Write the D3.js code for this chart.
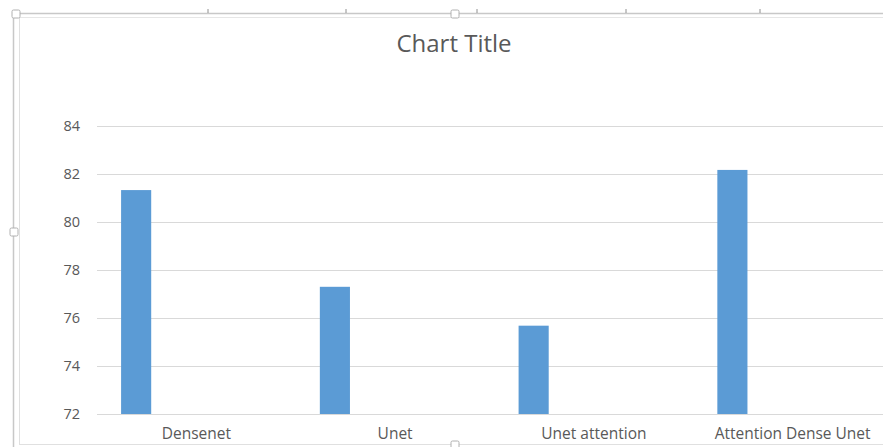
<!DOCTYPE html>
<html>
<head>
<meta charset="utf-8">
<script src="https://cdn.jsdelivr.net/npm/d3@7/dist/d3.min.js"></script>
<style>
  html, body { margin: 0; padding: 0; background: #ffffff; }
  svg { display: block; }
</style>
</head>
<body>
<svg id="chart" width="883" height="447"></svg>
<script>
const categories = ["Densenet", "Unet", "Unet attention", "Attention Dense Unet"];
const values = [81.33, 77.3, 75.68, 82.17];
const yTicks = [72, 74, 76, 78, 80, 82, 84];
const title = "Chart Title";
const seriesSlots = ["S1", "S2", "S3", "S4", "S5"];

const svg = d3.select("#chart");
const W = 883, H = 447;
const plot = { left: 97, right: 892, top: 126, bottom: 414 };
const font = "'Open Sans', 'Noto Sans', sans-serif";

// Excel-like chart frame (selection border)
const frame = svg.append("g");
frame.append("line").attr("x1", 13).attr("x2", W).attr("y1", 13.5).attr("y2", 13.5).attr("stroke", "#c8c8c8").attr("stroke-width", 1.5);
frame.append("line").attr("x1", 18).attr("x2", W).attr("y1", 17.5).attr("y2", 17.5).attr("stroke", "#e6e6e6").attr("stroke-width", 1);
frame.append("line").attr("x1", 13.5).attr("x2", 13.5).attr("y1", 13).attr("y2", 447).attr("stroke", "#c8c8c8").attr("stroke-width", 1.5);
frame.append("line").attr("x1", 19.5).attr("x2", 19.5).attr("y1", 17).attr("y2", 445).attr("stroke", "#e0e0e0").attr("stroke-width", 1);
frame.append("line").attr("x1", 19).attr("x2", W).attr("y1", 444.5).attr("y2", 444.5).attr("stroke", "#e0e0e0").attr("stroke-width", 1);
[208, 346, 477, 626, 760].forEach(x => {
  frame.append("line").attr("x1", x).attr("x2", x).attr("y1", 9).attr("y2", 13).attr("stroke", "#909090").attr("stroke-width", 1);
});
[[16, 14], [455, 14], [14, 232], [455, 445]].forEach(([cx, cy]) => {
  frame.append("rect").attr("x", cx - 4).attr("y", cy - 4).attr("width", 8).attr("height", 8)
    .attr("rx", 1.5).attr("fill", "#ffffff").attr("stroke", "#b0b0b0").attr("stroke-width", 1);
});

// Scales
const x = d3.scaleBand().domain(categories).range([plot.left, plot.right]).paddingInner(0).paddingOuter(0);
const slot = d3.scaleBand().domain(seriesSlots).range([0, x.bandwidth()]).paddingInner(0).paddingOuter(0.8);
const y = d3.scaleLinear().domain([72, 84]).range([plot.bottom, plot.top]);

// Gridlines
const yAxis = d3.axisLeft(y).tickValues(yTicks).tickSize(-(W - plot.left)).tickPadding(17).tickFormat(d3.format("d"));
const gy = svg.append("g").attr("transform", `translate(${plot.left},0)`).call(yAxis);
gy.select(".domain").remove();
gy.selectAll(".tick line").attr("stroke", "#d9d9d9").attr("stroke-width", 1);
gy.selectAll(".tick text").attr("fill", "#595959").style("font-family", font).style("font-size", "14.5px");

// Bars
svg.append("g").selectAll("rect").data(categories).join("rect")
  .attr("x", (d) => x(d) + slot("S1"))
  .attr("width", slot.bandwidth())
  .attr("y", (d, i) => y(values[i]))
  .attr("height", (d, i) => y(72) - y(values[i]))
  .attr("fill", "#5B9BD5");

// X axis labels
const xAxis = d3.axisBottom(x).tickSize(0).tickPadding(14);
const gx = svg.append("g").attr("transform", `translate(0,${plot.bottom})`).call(xAxis);
gx.select(".domain").remove();
gx.selectAll(".tick text").attr("fill", "#595959").style("font-family", font).style("font-size", "15.5px");

// Title
svg.append("text").attr("x", 454).attr("y", 52).attr("text-anchor", "middle")
  .attr("fill", "#595959").style("font-family", font).style("font-size", "24px").text(title);
</script>
</body>
</html>
